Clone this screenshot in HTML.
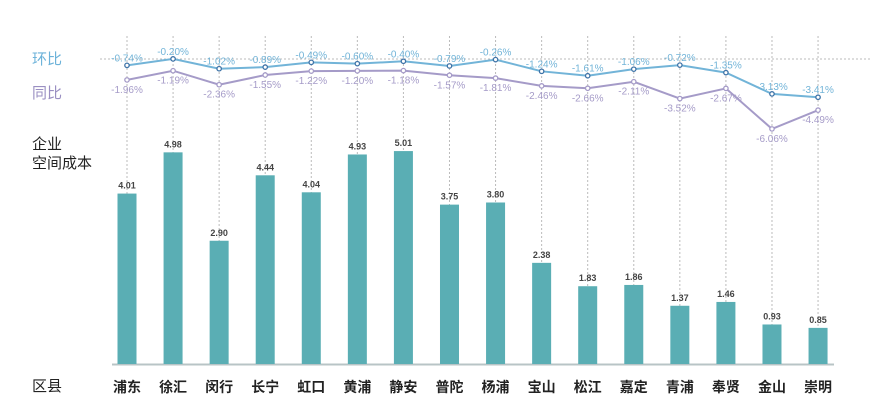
<!DOCTYPE html>
<html><head><meta charset="utf-8"><style>
body{margin:0;background:#fff;}
svg{display:block;font-family:"Liberation Sans","Noto Sans CJK SC",sans-serif;}
</style></head><body>
<svg id="c" width="886" height="415">
<line x1="100" y1="59" x2="872" y2="59" stroke="#bbb" stroke-dasharray="2,2"/>
<text x="32" y="64" font-size="15" fill="#6cb2d9">环比</text>
<text x="32" y="98" font-size="15" fill="#9a8fc2">同比</text>
<text x="32" y="149" font-size="15" fill="#222">企业</text>
<text x="32" y="168" font-size="15" fill="#222">空间成本</text>
<text x="32" y="391" font-size="15" fill="#222">区县</text>
<line x1="112" y1="364.5" x2="834" y2="364.5" stroke="#b8c4c6" stroke-width="2"/>
<g id="g"></g>
</svg>
<script>
const categories=["浦东","徐汇","闵行","长宁","虹口","黄浦","静安","普陀","杨浦","宝山","松江","嘉定","青浦","奉贤","金山","崇明"];
const costValues=[4.01,4.98,2.90,4.44,4.04,4.93,5.01,3.75,3.80,2.38,1.83,1.86,1.37,1.46,0.93,0.85];
const huanbiValues=[-0.74,-0.20,-1.02,-0.89,-0.49,-0.60,-0.40,-0.79,-0.26,-1.24,-1.61,-1.06,-0.72,-1.35,-3.13,-3.41];
const tongbiValues=[-1.96,-1.19,-2.36,-1.55,-1.22,-1.20,-1.18,-1.57,-1.81,-2.46,-2.66,-2.11,-3.52,-2.67,-6.06,-4.49];
const NS="http://www.w3.org/2000/svg";
const g=document.getElementById('g');
const xPos=i=>127+i*46.07;
const yBar=v=>364-v*42.5;
const yPct=v=>56.5-v*11.95;
function mk(t,a){const e=document.createElementNS(NS,t);for(const k in a)e.setAttribute(k,a[k]);g.appendChild(e);return e;}
categories.forEach((c,i)=>{
  const x=xPos(i);
  const gl=mk('line',{x1:x,y1:36,x2:x,y2:364,stroke:'#bbb','stroke-dasharray':'2,2'});
  
  
  const v=costValues[i];
  const b=mk('rect',{x:x-9.5,y:yBar(v),width:19,height:364-yBar(v),fill:'#5aaeb4'});
  
  
  const t=mk('text',{x:x,y:yBar(v)-5,'font-size':'9','font-weight':'bold',fill:'#444','text-anchor':'middle'});
  t.textContent=v.toFixed(2);
  
  
  const l=mk('text',{x:x,y:392,'font-size':'14','font-weight':'bold',fill:'#222','text-anchor':'middle'});
  l.textContent=c;
  
  
});
function series(vals,color,dot,name,lblDy){
  const p=mk('polyline',{points:vals.map((v,i)=>xPos(i)+','+yPct(v)).join(' '),fill:'none',stroke:color,'stroke-width':'2'});
  
  
  vals.forEach((v,i)=>{
    const c=mk('circle',{cx:xPos(i),cy:yPct(v),r:2.2,fill:'#fff',stroke:dot,'stroke-width':'1.3'});
    
    
    const t=mk('text',{x:xPos(i),y:yPct(v)+lblDy,'font-size':'10',fill:color,'text-anchor':'middle'});
    t.textContent=v.toFixed(2)+'%';
    
    
  });
}
series(tongbiValues,'#a59bc8','#a59bc8','tongbi',13);
series(huanbiValues,'#72b4d8','#3f74a8','huanbi',-4);
</script>
</body></html>
